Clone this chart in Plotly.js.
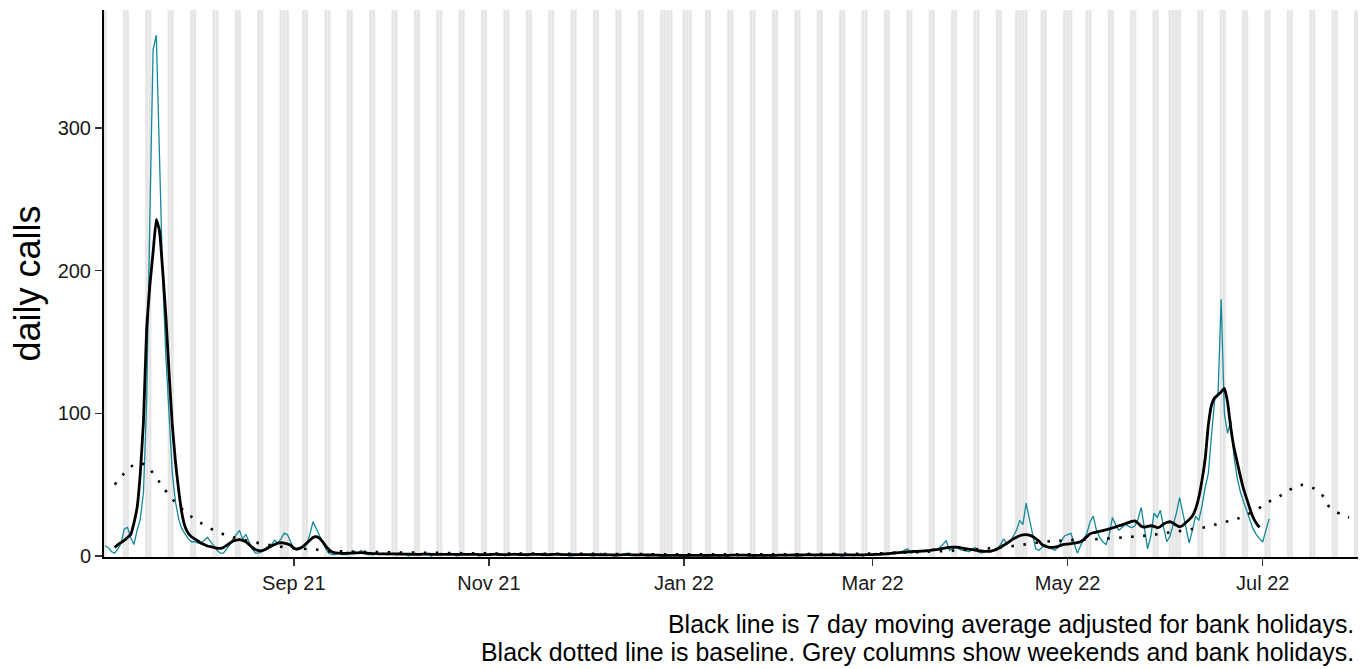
<!DOCTYPE html>
<html>
<head>
<meta charset="utf-8">
<script src="https://cdn.plot.ly/plotly-3.0.1.min.js"></script>
<style>html,body{margin:0;padding:0;background:#fff;}#chart{width:1370px;height:669px;}</style>
</head>
<body>
<div id="chart"></div>
<script>
// ---------- DATA ----------
// Daily calls (teal), starting 2021-07-04
const callsStart = '2021-07-04';
const calls_2021_07 = [7,6,3,2,5,9,19,20,13,8,18,26,45,110,240,355,365,272,195,140,95,58,38,26,19,15,12,10];
const calls_2021_08 = [10,9,9,11,13,10,7,4,2,2,5,8,12,15,18,12,15,10,5,2,2,3,4,5,8,11,9,12,16,15,10];
const calls_2021_09 = [5,4,5,6,8,15,24,19,14,9,5,2,1,1,2,1,1,1,2,3,2,4,2,1,1,1,2,1,2,1];
const calls_2021_10 = [1,2,1,2,1,1,0,1,2,1,2,1,1,0,1,1,2,1,1,2,1,0,1,2,1,1,2,1,0,1,1];
const calls_2021_11 = [1,1,2,1,1,0,1,1,2,1,1,1,0,1,2,1,1,2,0,1,1,1,2,1,1,0,0,1,1,2];
const calls_2021_12 = [1,1,0,0,1,2,1,1,1,0,0,1,1,2,1,1,0,1,1,1,0,1,1,0,0,0,0,1,1,1,0];
const calls_2022_01 = [0,0,0,1,1,1,0,0,0,1,1,0,1,0,0,1,1,0,1,1,0,0,0,1,1,0,1,0,0,1,1];
const calls_2022_02 = [1,0,1,1,0,0,1,1,2,1,0,1,0,1,1,1,2,1,0,0,1,1,0,1,1,0,1,1];
const calls_2022_03 = [1,2,1,2,1,1,2,3,2,3,4,5,2,3,2,3,4,3,4,5,4,6,8,11,4,5,6,5,4,4,3];
const calls_2022_04 = [4,6,3,2,3,4,3,4,5,8,12,8,10,14,18,25,22,37,26,14,5,4,6,8,6,5,4,6,10,14];
const calls_2022_05 = [15,16,9,2,7,12,16,24,28,18,13,10,8,15,27,22,18,20,22,21,20,21,26,34,18,5,14,30,27,32,20];
const calls_2022_06 = [10,14,22,30,41,30,18,9,18,28,25,35,48,58,85,110,112,180,100,86,95,70,55,45,38,32,25,19,15,12];
const calls_2022_07 = [10,18,26];

// 7 day moving average (black), starting 2021-07-07
const maStart = '2021-07-07';
const ma_2021_07 = [6,8,9.5,11,13,15,23,34,58,95,160,190,213,236,228,200,168,128,92,66,46,30,20.5,16,13.5];
const ma_2021_08 = [12,10.5,9,8,7,6.5,6,5.5,5.4,6,7.5,9,10.5,11.2,11.5,11,10,8,6,4.5,3.7,3.7,4.5,6,7,8,9,9.3,9,8.5,7.5];
const ma_2021_09 = [5.5,5,5.5,7,9,11,13,13.5,12.5,10,7,4.5,2.8,2.2,2,1.9,1.9,2,2,2.1,2.2,2.3,2.2,2,1.8,1.7,1.6,1.5,1.5,1.5];
const ma_2021_10 = [1.5,1.5,1.4,1.4,1.3,1.3,1.3,1.2,1.2,1.2,1.2,1.3,1.3,1.2,1.2,1.1,1.1,1.2,1.2,1.2,1.1,1.1,1.1,1.2,1.2,1.2,1.1,1.1,1.0,1.0,1.0];
const ma_2021_11 = [1.0,1.1,1.1,1.1,1.0,1.0,1.0,1.1,1.1,1.1,1.0,1.0,1.0,1.1,1.1,1.1,1.1,1.0,1.0,1.0,1.1,1.1,1.1,1.0,1.0,0.9,0.9,0.9,1.0,1.0];
const ma_2021_12 = [1.0,1.0,0.9,0.9,0.9,0.8,0.8,0.8,0.8,0.8,0.8,0.8,0.9,0.9,0.9,0.8,0.8,0.8,0.8,0.7,0.7,0.7,0.6,0.6,0.5,0.5,0.5,0.5,0.5,0.5,0.5];
const ma_2022_01 = [0.5,0.5,0.5,0.5,0.5,0.5,0.5,0.5,0.5,0.5,0.5,0.5,0.5,0.5,0.5,0.6,0.6,0.6,0.6,0.6,0.6,0.5,0.5,0.5,0.5,0.5,0.5,0.5,0.5,0.5,0.6];
const ma_2022_02 = [0.6,0.6,0.6,0.7,0.7,0.7,0.7,0.8,0.8,0.8,0.8,0.8,0.8,0.8,0.8,0.8,0.8,0.8,0.8,0.8,0.8,0.8,0.8,0.8,0.8,0.8,0.9,1.0];
const ma_2022_03 = [1.0,1.1,1.2,1.3,1.5,1.7,1.9,2.1,2.3,2.5,2.7,2.9,3.1,3.2,3.3,3.4,3.5,3.7,3.9,4.2,4.5,4.9,5.3,5.7,6.0,6.2,6.2,6.0,5.6,5.2,4.8];
const ma_2022_04 = [4.5,4.2,3.8,3.5,3.3,3.3,3.5,4.0,5.0,6.2,7.5,9.0,10.5,12.0,13.2,14.2,14.8,15.0,14.6,13.6,12.2,10.5,8.0,6.8,6.3,6.1,6.2,6.8,7.6,8.2];
const ma_2022_05 = [8.4,8.7,9.0,9.4,10.0,11.5,13.5,15.5,16.3,16.8,17.2,17.8,18.4,19.0,19.6,20.4,21.2,21.8,22.6,23.4,24.2,24.6,23.0,20.8,20.2,20.8,21.2,20.8,19.8,20.6,22.4];
const ma_2022_06 = [23.5,24.0,23.0,21.5,20.5,21.5,23.5,25.5,28,33,41,53,68,92,106,111,113,115,117.5,108,90,76,66,56,47,40,33,27,23,20];

// Baseline (black dotted)
const baselineDates = ['2021-07-07','2021-07-10','2021-07-13','2021-07-15','2021-07-17','2021-07-20','2021-07-22','2021-07-25','2021-07-28','2021-07-31',
  '2021-08-03','2021-08-07','2021-08-11','2021-08-15','2021-08-19','2021-08-23','2021-08-27','2021-08-31','2021-09-04','2021-09-08',
  '2021-09-12','2021-09-16','2021-09-20','2021-09-30','2021-10-15','2021-11-01','2021-12-01','2022-01-01','2022-02-01','2022-03-01',
  '2022-03-15','2022-04-01','2022-04-12','2022-04-24','2022-05-01','2022-05-09','2022-05-17','2022-05-21','2022-05-25','2022-05-29',
  '2022-06-02','2022-06-06','2022-06-10','2022-06-14','2022-06-18','2022-06-22','2022-06-25','2022-06-29','2022-07-02','2022-07-06',
  '2022-07-09','2022-07-13','2022-07-17','2022-07-20','2022-07-22','2022-07-26','2022-07-28'];
const baselineValues = [50,58,64,65,63,55,48.5,40,33,27.5,
  23,18,14.5,12,10,8.2,6.8,5.8,5.1,4.5,
  3.2,3.3,3.0,2.6,2.2,1.8,1.5,1.2,1.2,1.8,
  2.8,4.5,6.5,10,11,11.7,12.8,13.5,14.2,15.2,
  16.6,17.8,19.4,20.5,23.3,25.2,28,32.2,36.9,41.6,
  45.8,49.8,47.4,41.6,33.9,28.7,27];

// Bank holidays (grey columns along with weekends)
const bankHolidays = ['2021-08-30','2021-12-27','2021-12-28','2022-01-03','2022-04-15','2022-04-18','2022-05-02','2022-06-02','2022-06-03'];
const shadeFrom = '2021-07-03';
const shadeTo = '2022-07-31';

// Axis ticks and texts
const xTickVals = ['2021-09-01','2021-11-01','2022-01-01','2022-03-01','2022-05-01','2022-07-01'];
const xTickText = ['Sep 21','Nov 21','Jan 22','Mar 22','May 22','Jul 22'];
const yTickVals = [0,100,200,300];
const yTitle = 'daily calls';
const captionLines = ['Black line is 7 day moving average adjusted for bank holidays.',
  'Black dotted line is baseline. Grey columns show weekends and bank holidays.'];

// ---------- BUILD ----------
const DAY = 86400000;
function pad(n){return (n<10?'0':'')+n;}
function fmt(t){const d=new Date(t);return d.getUTCFullYear()+'-'+pad(d.getUTCMonth()+1)+'-'+pad(d.getUTCDate())+' '+pad(d.getUTCHours())+':'+pad(d.getUTCMinutes());}
function seq(start,n){const t0=Date.parse(start+'T00:00:00Z');const out=[];for(let i=0;i<n;i++){out.push(fmt(t0+i*DAY).slice(0,10));}return out;}

const calls = [].concat(calls_2021_07,calls_2021_08,calls_2021_09,calls_2021_10,calls_2021_11,calls_2021_12,
  calls_2022_01,calls_2022_02,calls_2022_03,calls_2022_04,calls_2022_05,calls_2022_06,calls_2022_07);
const callDates = seq(callsStart, calls.length);
const ma = [].concat(ma_2021_07,ma_2021_08,ma_2021_09,ma_2021_10,ma_2021_11,ma_2021_12,
  ma_2022_01,ma_2022_02,ma_2022_03,ma_2022_04,ma_2022_05,ma_2022_06);
const maDates = seq(maStart, ma.length);

const shapes = [];
const tA = Date.parse(shadeFrom+'T00:00:00Z'), tB = Date.parse(shadeTo+'T00:00:00Z');
for (let t=tA; t<=tB; t+=DAY){
  const d = new Date(t); const dow = d.getUTCDay(); const iso = fmt(t).slice(0,10);
  if (dow===0 || dow===6 || bankHolidays.indexOf(iso)>=0){
    shapes.push({type:'rect', xref:'x', yref:'paper', x0:fmt(t-0.46*DAY), x1:fmt(t+0.46*DAY), y0:0, y1:1,
      fillcolor:'#e6e6e6', line:{width:0}, layer:'below'});
  }
}

const traces = [
  {x:callDates, y:calls, type:'scatter', mode:'lines', line:{color:'#12899c', width:1.3}, hoverinfo:'skip'},
  {x:maDates, y:ma, type:'scatter', mode:'lines', line:{color:'#000000', width:2.8, shape:'spline', smoothing:0.35}, hoverinfo:'skip'},
  {x:baselineDates, y:baselineValues, type:'scatter', mode:'lines', line:{color:'#000000', width:2.6, dash:'2.5px,9.5px', shape:'spline', smoothing:1}, hoverinfo:'skip'}
];

const layout = {
  width:1370, height:669,
  margin:{l:104, r:12, t:10, b:112},
  paper_bgcolor:'#ffffff', plot_bgcolor:'#ffffff',
  showlegend:false,
  font:{family:'"Liberation Sans", Arial, sans-serif', color:'#000'},
  xaxis:{type:'date', range:['2021-07-03 15:30','2022-07-30 19:00'],
    tickmode:'array', tickvals:xTickVals, ticktext:xTickText,
    ticks:'outside', ticklen:7, tickwidth:1.5, tickcolor:'#333333',
    showline:true, linecolor:'#000000', linewidth:2, showgrid:false, zeroline:false,
    tickfont:{size:20, color:'#1a1a1a'}},
  yaxis:{range:[-0.7,382.7], tickmode:'array', tickvals:yTickVals,
    ticks:'outside', ticklen:7, tickwidth:1.5, tickcolor:'#333333',
    showline:true, linecolor:'#000000', linewidth:2, showgrid:false, zeroline:false,
    tickfont:{size:20, color:'#1a1a1a'},
    title:{text:yTitle, font:{size:36, color:'#000'}, standoff:6}},
  shapes:shapes,
  annotations:[
    {xref:'paper', yref:'paper', x:0.9985, y:-0.1225, xanchor:'right', yanchor:'middle',
      showarrow:false, text:captionLines[0], font:{size:24.9, color:'#000'}},
    {xref:'paper', yref:'paper', x:0.9985, y:-0.1737, xanchor:'right', yanchor:'middle',
      showarrow:false, text:captionLines[1], font:{size:24.9, color:'#000'}}
  ]
};

Plotly.newPlot('chart', traces, layout, {displayModeBar:false, staticPlot:true});
</script>
</body>
</html>
